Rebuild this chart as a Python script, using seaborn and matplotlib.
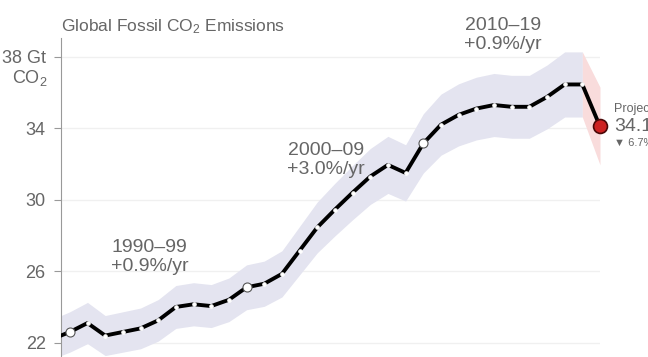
import numpy as np
import pandas as pd
import seaborn as sns
import matplotlib.pyplot as plt

years = list(range(1989, 2021))
emissions = [22.2, 22.6, 23.1, 22.4, 22.6, 22.8, 23.25, 24.0, 24.15, 24.05, 24.4,
             25.1, 25.3, 25.85, 27.15, 28.45, 29.45, 30.4, 31.3, 31.95, 31.5,
             33.15, 34.2, 34.75, 35.1, 35.3, 35.2, 35.2, 35.75, 36.45, 36.45, 34.1]
highlight_years = [1990, 2000, 2010]
band_pct = 0.05
proj_low, proj_high = 31.95, 36.3

yticks = [22, 26, 30, 34, 38]
ytick_labels = ["22", "26", "30", "34", "38 Gt"]

decades = [(1994.5, 25.8, "1990–99\n+0.9%/yr"),
           (2004.5, 31.2, "2000–09\n+3.0%/yr"),
           (2014.5, 38.2, "2010–19\n+0.9%/yr")]

df = pd.DataFrame({"year": years, "co2": emissions})
hist = df[df.year <= 2019]

sns.set_theme(style="white")
plt.rcParams["font.family"] = ["Liberation Sans", "DejaVu Sans"]
plt.rcParams["mathtext.default"] = "regular"
gray = "#666666"

fig = plt.figure(figsize=(6.48, 3.57), dpi=100)
ax = fig.add_axes([61 / 648, 0, 539 / 648, 319 / 357])

# uncertainty band
ax.fill_between(hist.year, hist.co2 * (1 - band_pct), hist.co2 * (1 + band_pct),
                color="#e4e4f0", lw=0, zorder=1)
ax.fill_between([2019, 2020],
                [emissions[-2] * (1 - band_pct), proj_low],
                [emissions[-2] * (1 + band_pct), proj_high],
                color="#f9dcdc", lw=0, zorder=1)

sns.lineplot(data=df, x="year", y="co2", ax=ax, color="black", lw=2.8,
             marker="o", markersize=2.5, markerfacecolor="white",
             markeredgecolor="white", zorder=3)

hl = df[df.year.isin(highlight_years)]
ax.plot(hl.year, hl.co2, "o", ms=6.5, mfc="white", mec="#555555", mew=0.8, zorder=4)
ax.plot([2020], [emissions[-1]], "o", ms=10, mfc="#cc2222", mec="#4a0808",
        mew=1.2, zorder=5, clip_on=False)

ax.set_xlim(1989.5, 2020)
ax.set_ylim(21.2, 39.05)
ax.set_yticks(yticks)
ax.set_yticklabels(ytick_labels)
ax.set_xticks([])
ax.set_xlabel("")
ax.set_ylabel("")
ax.grid(axis="y", color="#f0f0f0", lw=1)
for s in ["top", "right", "bottom"]:
    ax.spines[s].set_visible(False)
ax.spines["left"].set_color("#999999")
ax.spines["left"].set_linewidth(0.8)
ax.tick_params(axis="y", left=True, length=5, width=0.8, color="#999999",
               labelsize=13, labelcolor=gray, pad=6)

ax.text(-0.024, 36.8, "CO$_2$", transform=ax.get_yaxis_transform(), ha="right",
        va="center", fontsize=13, color=gray)
ax.text(0.0, 1.005, "Global Fossil CO$_2$ Emissions", transform=ax.transAxes,
        ha="left", va="bottom", fontsize=12.5, color=gray)

for x, y, label in decades:
    ax.text(x, y, label, ha="center", va="bottom", fontsize=14, color=gray,
            linespacing=1.15)

ax.text(2020.8, 35.1, "Projected", fontsize=9, color=gray, va="center", clip_on=False)
ax.text(2020.8, 34.1, "34.1", fontsize=14, color=gray, va="center", clip_on=False)
ax.text(2020.8, 33.2, "▼ 6.7%", fontsize=8, color=gray, va="center", clip_on=False)

fig.savefig("out.png", dpi=100)
